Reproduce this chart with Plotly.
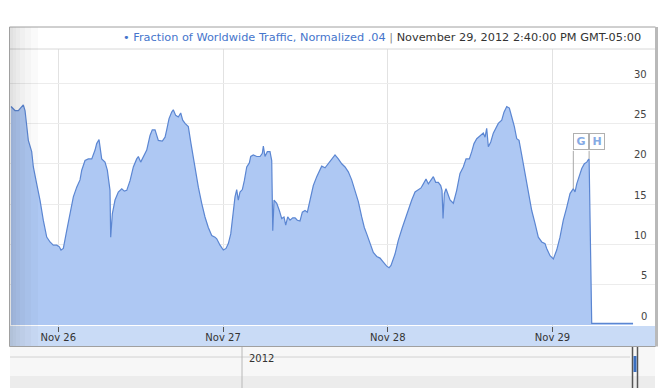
import pandas as pd
import plotly.graph_objects as go

# ---------------- data ----------------
# hours after 2012-11-26 00:00 and the traffic value
hours = [-6.89, -6.31, -5.83, -5.33, -5.10, -4.85, -4.37, -3.88, -3.64, -3.15,
         -2.67, -2.19, -1.69, -1.21, -0.73, -0.23, 0.15, 0.39, 0.73, 1.22,
         1.70, 2.19, 2.68, 3.16, 3.41, 3.89, 4.37, 4.87, 5.35, 5.59,
         5.93, 6.08, 6.32, 6.80, 7.14, 7.53, 7.63, 7.87, 8.26, 8.74,
         9.24, 9.62, 9.97, 10.45, 10.93, 11.42, 11.66, 12.00, 12.38, 12.88,
         13.36, 13.69, 14.09, 14.57, 15.15, 15.55, 15.79, 16.13, 16.52, 16.75,
         17.10, 17.48, 17.83, 18.12, 18.46, 18.94, 19.33, 19.81, 20.40, 20.89,
         21.37, 21.85, 22.35, 22.83, 23.08, 23.56, 24.04, 24.43, 24.77, 25.12,
         25.41, 25.74, 25.99, 26.22, 26.47, 26.81, 27.10, 27.45, 27.83, 28.03,
         28.41, 28.90, 29.39, 29.72, 29.87, 30.11, 30.45, 30.84, 31.09, 31.24,
         31.43, 31.82, 32.20, 32.55, 32.88, 33.13, 33.42, 33.76, 34.15, 34.49,
         34.82, 35.21, 35.55, 35.94, 36.28, 36.67, 37.15, 37.65, 38.03, 38.37,
         38.86, 39.34, 39.83, 40.31, 40.79, 41.29, 41.77, 42.25, 42.74, 43.23,
         43.71, 44.20, 44.58, 44.93, 45.41, 45.89, 46.39, 46.87, 47.35, 47.84,
         48.18, 48.47, 49.05, 49.53, 50.12, 50.76, 51.49, 51.97, 52.45, 52.84,
         53.18, 53.57, 53.91, 54.26, 54.64, 54.98, 55.36, 55.71, 55.90, 56.05,
         56.24, 56.48, 56.73, 57.07, 57.55, 58.04, 58.52, 59.00, 59.40, 59.88,
         60.23, 60.56, 60.96, 61.44, 61.92, 62.17, 62.41, 62.65, 63.00, 63.37,
         63.77, 64.10, 64.60, 64.93, 65.33, 65.71, 66.06, 66.44, 66.79, 67.12,
         67.51, 68.00, 68.48, 68.97, 69.45, 69.93, 70.43, 70.91, 71.15, 71.64,
         72.12, 72.61, 73.09, 73.57, 74.07, 74.55, 75.03, 75.28, 75.53, 75.86,
         76.26, 76.64, 76.99, 77.22, 77.33, 77.71, 83.73]
traffic = [27.1, 26.6, 26.6, 27.1, 27.3, 26.6, 22.9, 21.5, 19.6, 17.5,
           15.5, 13.0, 10.9, 10.3, 9.9, 9.9, 9.7, 9.3, 9.5, 11.7,
           13.8, 15.9, 17.1, 18.0, 19.2, 20.4, 20.6, 20.6, 21.7, 22.5,
           23.0, 21.9, 20.6, 20.2, 19.2, 16.7, 10.9, 13.8, 15.5, 16.5,
           16.9, 16.6, 16.7, 17.9, 19.6, 20.6, 20.9, 20.2, 20.8, 21.7,
           23.5, 24.2, 24.2, 22.9, 22.8, 23.3, 24.2, 25.6, 26.4, 26.7,
           26.0, 25.8, 26.3, 25.4, 25.0, 24.6, 22.5, 20.0, 17.1, 15.1,
           13.4, 12.1, 11.1, 10.9, 10.7, 9.9, 9.3, 9.5, 10.1, 11.3,
           13.4, 15.9, 16.8, 15.5, 16.5, 16.8, 17.9, 19.6, 20.1, 20.9,
           21.1, 20.9, 20.9, 21.3, 22.2, 20.9, 21.5, 21.5, 20.4, 11.7,
           15.5, 15.1, 14.2, 13.2, 13.4, 12.4, 13.4, 13.0, 13.3, 13.3,
           13.0, 12.9, 14.0, 14.2, 14.0, 15.5, 17.3, 18.4, 19.0, 19.7,
           19.5, 20.0, 20.5, 21.1, 20.6, 20.0, 19.6, 19.0, 18.0, 16.7,
           15.3, 13.4, 12.1, 11.3, 10.1, 9.0, 8.5, 8.3, 7.8, 7.3,
           7.1, 7.4, 8.8, 10.5, 12.1, 13.8, 15.5, 16.5, 16.8, 17.0,
           17.5, 18.1, 17.5, 17.9, 18.4, 17.7, 17.7, 17.3, 16.7, 13.2,
           16.3, 16.9, 16.3, 15.5, 15.1, 16.7, 18.8, 19.6, 20.6, 20.6,
           21.5, 22.5, 23.1, 23.5, 23.8, 23.3, 24.4, 22.1, 22.7, 23.8,
           24.4, 25.0, 25.4, 26.4, 27.1, 26.9, 25.8, 24.6, 23.1, 22.9,
           21.1, 18.8, 16.5, 14.2, 12.6, 10.9, 10.3, 10.1, 9.5, 8.6,
           8.2, 9.3, 10.9, 13.0, 14.6, 16.3, 16.9, 16.5, 17.5, 18.4,
           19.4, 20.0, 20.2, 20.5, 20.6, 0.2, 0.2]

flag_labels = ["G", "H"]
flag_hours = [75.03, 77.33]
flag_values = [16.9, 20.6]

y_tick_values = [0, 5, 10, 15, 20, 25, 30]
y_grid_values = [5, 10, 15, 20, 25, 30]
day_ticks = ["2012-11-26", "2012-11-27", "2012-11-28", "2012-11-29"]
x_range_hours = [-7.04, 86.93]
y_range = [-0.12, 34.23]

series_name = "Fraction of Worldwide Traffic, Normalized .04"
timestamp_text = "November 29, 2012 2:40:00 PM GMT-05:00"
navigator_year = "2012"

# ---------------- build ----------------
base = pd.Timestamp("2012-11-26")
times = base + pd.to_timedelta(hours, unit="h")
flag_times = base + pd.to_timedelta(flag_hours, unit="h")
x_range = [base + pd.Timedelta(hours=h) for h in x_range_hours]

W, H = 667, 388
L, R, T, B = 10, 12, 49, 62
PW, PH = W - L - R, H - T - B


def px(xp):
    return (xp - L) / PW


def py(yp):
    return (H - B - yp) / PH


fig = go.Figure()
fig.add_trace(go.Scatter(
    x=times, y=traffic, mode="lines", fill="tozeroy",
    line=dict(color="#5b86d2", width=1.2),
    fillcolor="#aec8f3", hoverinfo="skip", showlegend=False,
))

shapes = []
# x-axis label band
shapes.append(dict(type="rect", xref="paper", yref="paper", x0=px(10), x1=px(655),
                   y0=py(326), y1=py(346), fillcolor="#c9dbf6", line=dict(width=0), layer="below"))
# navigator strip
shapes.append(dict(type="rect", xref="paper", yref="paper", x0=px(10), x1=px(655),
                   y0=py(347), y1=py(388), fillcolor="#f7f7f7", line=dict(width=0), layer="below"))
shapes.append(dict(type="rect", xref="paper", yref="paper", x0=px(10), x1=px(655),
                   y0=py(376), y1=py(388), fillcolor="#ececec", line=dict(width=0), layer="below"))
shapes.append(dict(type="line", xref="paper", yref="paper", x0=px(10), x1=px(630),
                   y0=py(357), y1=py(357), line=dict(color="#d2d2d2", width=1)))
shapes.append(dict(type="line", xref="paper", yref="paper", x0=px(242), x1=px(242),
                   y0=py(347), y1=py(388), line=dict(color="#b8b8b8", width=1)))
for xx in (632.5, 637.5):
    shapes.append(dict(type="line", xref="paper", yref="paper", x0=px(xx), x1=px(xx),
                       y0=py(346), y1=py(388), line=dict(color="#555555", width=1.5)))
shapes.append(dict(type="rect", xref="paper", yref="paper", x0=px(633.5), x1=px(636.5),
                   y0=py(356), y1=py(372), fillcolor="#3a6fc0", line=dict(width=0)))
# header separator
shapes.append(dict(type="line", xref="paper", yref="paper", x0=px(10), x1=px(655),
                   y0=py(49), y1=py(49), line=dict(color="#d8d8d8", width=1)))
# frame
shapes.append(dict(type="rect", xref="paper", yref="paper", x0=px(9.5), x1=px(655.5),
                   y0=py(346.5), y1=py(27), fillcolor="rgba(0,0,0,0)",
                   line=dict(color="#a0a0a0", width=1)))
shapes.append(dict(type="rect", xref="paper", yref="paper", x0=px(655), x1=px(658),
                   y0=py(346.5), y1=py(27), fillcolor="#b9b9b9", line=dict(width=0)))
# left-edge shadow gradient
for w in (3, 6, 10, 15, 21, 28):
    shapes.append(dict(type="rect", xref="paper", yref="paper", x0=px(10), x1=px(10 + w),
                       y0=py(346), y1=py(27.5), fillcolor="rgba(40,40,60,0.025)",
                       line=dict(width=0), layer="above"))
# flag stems
for ft, fv in zip(flag_times, flag_values):
    shapes.append(dict(type="line", xref="x", yref="y", x0=ft, x1=ft, y0=fv, y1=21.6,
                       line=dict(color="#a8a8a8", width=1)))

annotations = []
# header
annotations.append(dict(
    xref="paper", yref="paper", x=px(643), y=py(37.5), xanchor="right", yanchor="middle",
    showarrow=False,
    text=(f"<span style='color:#4575cc'>\u2022 {series_name}</span>"
          f"<span style='color:#888888'> | </span>{timestamp_text}"),
    font=dict(family="DejaVu Sans", size=11.3, color="#333333"),
))
# y labels on the right (sit just above their gridline)
for v in y_tick_values:
    annotations.append(dict(xref="paper", yref="y", x=px(649), y=v, xanchor="right",
                            yanchor="middle", yshift=9, showarrow=False, text=str(v),
                            font=dict(family="DejaVu Sans", size=10, color="#444444")))
# navigator year
annotations.append(dict(xref="paper", yref="paper", x=px(247), y=py(358), xanchor="left",
                        yanchor="middle", showarrow=False, text=navigator_year,
                        font=dict(family="DejaVu Sans", size=10, color="#333333")))
# flags
for lab, ft in zip(flag_labels, flag_times):
    annotations.append(dict(xref="x", yref="y", x=ft, y=22.7, xanchor="left", yanchor="middle",
                            showarrow=False, text=f"<b>{lab}</b>", width=12, height=13,
                            bgcolor="white", bordercolor="#b0b0b0", borderwidth=1, borderpad=1,
                            font=dict(family="DejaVu Sans", size=11, color="#86aae4")))

fig.update_layout(
    width=W, height=H,
    margin=dict(l=L, r=R, t=T, b=B, pad=0),
    paper_bgcolor="white", plot_bgcolor="white",
    showlegend=False,
    shapes=shapes, annotations=annotations,
    xaxis=dict(
        range=x_range, type="date",
        tickvals=[pd.Timestamp(d) for d in day_ticks], tickformat="%b %d",
        showgrid=True, gridcolor="#e2e2e2", gridwidth=1,
        ticks="outside", ticklen=5, tickcolor="#555555", tickwidth=1,
        ticklabelstandoff=-3,
        tickfont=dict(family="DejaVu Sans", size=10, color="#333333"),
        showline=False, zeroline=False, fixedrange=True,
    ),
    yaxis=dict(
        range=y_range, tickvals=y_grid_values, showticklabels=False,
        showgrid=True, gridcolor="#ececec", gridwidth=1,
        zeroline=False, showline=False, fixedrange=True,
    ),
)

fig.write_html("out.html", config={"displayModeBar": False},
               post_script="document.body.style.margin='0';document.body.style.padding='0';")
